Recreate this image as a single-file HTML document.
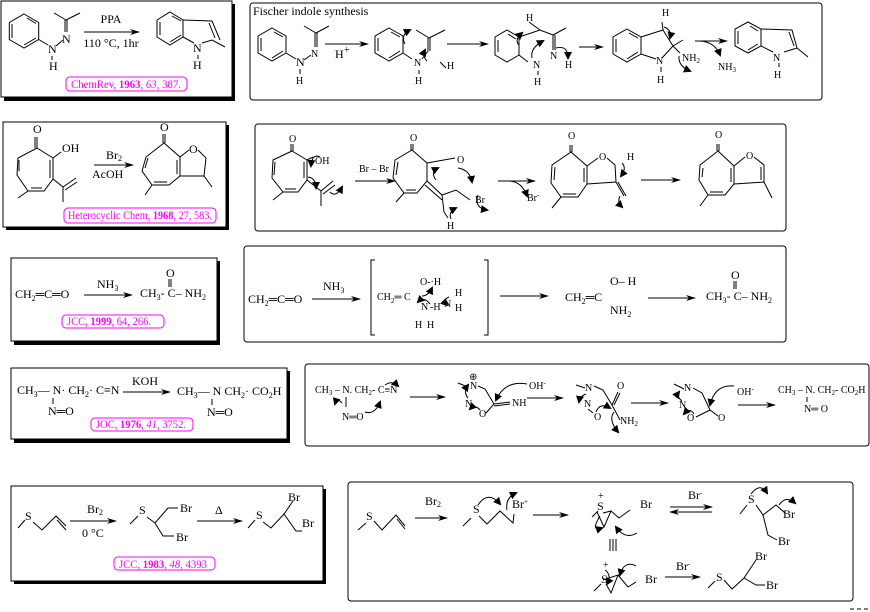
<!DOCTYPE html>
<html><head><meta charset="utf-8"><style>
html,body{margin:0;padding:0;background:#fff;}
svg{display:block;font-family:"Liberation Serif",serif;}
.t{font-size:12px;fill:#000;}
.s{font-size:10px;fill:#000;}
.m{font-size:11.5px;fill:#f0f;}
.b{fill:none;stroke:#000;stroke-width:1;}
.c{fill:none;stroke:#000;stroke-width:1;}
</style></head><body>
<svg width="870" height="612" viewBox="0 0 870 612" xmlns="http://www.w3.org/2000/svg">
<defs>
<marker id="a" markerWidth="10" markerHeight="6" refX="9" refY="3" orient="auto" markerUnits="userSpaceOnUse"><path d="M0,0 L10,3 L0,6 L3,3z" fill="#000"/></marker>
<marker id="h" markerWidth="8" markerHeight="8" refX="6" refY="4" orient="auto" markerUnits="userSpaceOnUse"><path d="M0,0 L8,4 L0,8z" fill="#000"/></marker>
</defs>

<rect x="4" y="4" width="231" height="97" fill="#000"/><rect x="1" y="1" width="231" height="96" fill="#fff" stroke="#000"/>
<rect x="6" y="125" width="223" height="105" fill="#000"/><rect x="3" y="122" width="223" height="105" fill="#fff" stroke="#000"/>
<rect x="14" y="261" width="206" height="84" fill="#000"/><rect x="11" y="258" width="206" height="83" fill="#fff" stroke="#000"/>
<rect x="14" y="371" width="276" height="72" fill="#000"/><rect x="11" y="368" width="276" height="71" fill="#fff" stroke="#000"/>
<rect x="14" y="489" width="312" height="95" fill="#000"/><rect x="11" y="486" width="312" height="95" fill="#fff" stroke="#000"/>

<rect x="250" y="3" width="572" height="97" rx="3" class="b"/>
<rect x="255" y="124" width="531" height="107" rx="3" class="b"/>
<rect x="244" y="246" width="542" height="96" rx="3" class="b"/>
<rect x="305" y="364" width="564" height="82" rx="3" class="b"/>
<rect x="348" y="482" width="505" height="119" rx="3" class="b"/>

<rect x="66" y="77" width="121" height="14" rx="4" fill="none" stroke="#f0f"/>
<text x="71" y="88" class="m" textLength="110" lengthAdjust="spacingAndGlyphs">ChemRev, <tspan font-weight="bold">1963</tspan>, <tspan font-style="italic">63</tspan>, 387.</text>
<rect x="64" y="208" width="152" height="15" rx="4" fill="none" stroke="#f0f"/>
<text x="68" y="219" class="m" textLength="144" lengthAdjust="spacingAndGlyphs">Heterocyclic Chem, <tspan font-weight="bold">1968</tspan>, 27, 583.</text>
<rect x="62" y="315" width="102" height="13" rx="4" fill="none" stroke="#f0f"/>
<text x="67" y="325" class="m" textLength="84" lengthAdjust="spacingAndGlyphs">JCC, <tspan font-weight="bold">1999</tspan>, 64, 266.</text>
<rect x="91" y="418" width="102" height="13" rx="4" fill="none" stroke="#f0f"/>
<text x="96" y="428" class="m" textLength="90" lengthAdjust="spacingAndGlyphs">JOC, <tspan font-weight="bold">1976</tspan>, <tspan font-style="italic">41</tspan>, 3752.</text>
<rect x="114" y="557" width="101" height="13" rx="4" fill="none" stroke="#f0f"/>
<text x="119" y="568" class="m" textLength="88" lengthAdjust="spacingAndGlyphs">JCC, <tspan font-weight="bold">1983</tspan>, <tspan font-style="italic">48</tspan>, 4393</text>

<!-- Row 1 left -->
<polygon points="24,14 38.7,22.5 38.7,39.5 24,48 9.3,39.5 9.3,22.5" class="b"/>
<path d="M27,18 L36,23.5 M36,38 L24,45 M12,38 L12,24" class="c"/>
<line x1="38.7" y1="39.5" x2="48" y2="45" class="c"/>
<text x="48" y="53" class="t">N</text><text x="49" y="70" class="t">H</text><line x1="52" y1="56" x2="52" y2="60" class="c"/>
<line x1="56" y1="46" x2="63" y2="40" class="c"/>
<text x="62" y="43" class="t">N</text>
<path d="M67,32 L67,20 M65,32 L65,20 M66,20 L54,13 M66,20 L80,13" class="c"/>
<line x1="84" y1="32" x2="139" y2="32" class="c" marker-end="url(#a)"/>
<text x="111" y="23" class="t" text-anchor="middle">PPA</text>
<text x="111" y="47" class="t" text-anchor="middle">110 °C, 1hr</text>
<polygon points="170,12 183,20 183,37 170,45 157,37 157,20" class="b"/>
<path d="M172,16 L181,21 M181,35 L170,42 M160,35 L160,22" class="c"/>
<path d="M183,20 L212,21 L220,40 M209,23 L215,38 M183,37 L194,43 M202,43 L212,40 L225,47" class="c"/>
<text x="193" y="52" class="t">N</text><line x1="198" y1="55" x2="198" y2="59" class="c"/><text x="193" y="69" class="t">H</text>

<!-- Row 1 right -->
<text x="253" y="15" class="t">Fischer indole synthesis</text>
<polygon points="272,28 286,36 286,53 272,61 258,53 258,36" class="b"/>
<path d="M274,32 L283,37 M283,51 L272,58 M261,51 L261,38" class="c"/>
<line x1="286" y1="53" x2="296" y2="59" class="c"/>
<text x="296" y="66" class="t" font-size="11">N</text><line x1="300" y1="69" x2="300" y2="74" class="c"/><text x="296" y="84" class="s">H</text>
<line x1="304" y1="60" x2="311" y2="55" class="c"/>
<text x="311" y="57" class="s">N</text>
<path d="M317,47 L317,33 M315,47 L315,33 M316,33 L304,26 M316,33 L329,26" class="c"/>
<line x1="325" y1="44" x2="368" y2="44" class="c" marker-end="url(#a)"/>
<text x="335" y="58" class="t">H</text><text x="344" y="53" class="s">+</text>
<polygon points="389,28 403,36 403,53 389,61 375,53 375,36" class="b"/>
<path d="M391,32 L400,37 M400,51 L389,58 M378,51 L378,38" class="c"/>
<text x="414" y="66" class="s">N</text><line x1="419" y1="70" x2="419" y2="74" class="c"/><text x="415" y="84" class="s">H</text>
<path d="M403,53 L412,59 M422,59 L428,51 M428,51 L428,38 M430,51 L430,38 M429,38 L445,30 M429,38 L416,30 M446,68 L440,62" class="c"/>
<text x="447" y="69" class="s">H</text>
<path d="M405,44 Q400,35 410,30" class="c" marker-end="url(#h)"/>
<path d="M427,61 Q422,56 425,50" class="c" marker-end="url(#h)"/>
<line x1="447" y1="44" x2="488" y2="44" class="c" marker-end="url(#a)"/>
<polygon points="507,30 519,37 519,55 507,62 495,55 495,37" class="b"/>
<path d="M508,34 L516,39 M498,52 L498,40 M519,55 L528,62" class="c"/>
<path d="M519,37 L540,30 L553,35 M540,30 L529,22 M553,35 L553,50 M555,35 L555,50 M553,35 L566,28" class="c"/>
<text x="526" y="21" class="s">H</text>
<text x="533" y="68" class="s">N</text><line x1="538" y1="71" x2="538" y2="75" class="c"/><text x="534" y="85" class="s">H</text>
<text x="550" y="59" class="s">N</text><text x="565" y="68" class="s">H</text>
<path d="M519,45 Q514,40 522,33" class="c" marker-end="url(#h)"/>
<path d="M532,58 Q530,48 543,41" class="c" marker-end="url(#h)"/>
<path d="M556,48 Q568,45 568,58" class="c" marker-end="url(#h)"/>
<line x1="579" y1="47" x2="603" y2="47" class="c" marker-end="url(#a)"/>
<polygon points="627,29 641,37 641,54 627,62 613,54 613,37" class="b"/>
<path d="M629,33 L638,38 M638,52 L627,59 M616,52 L616,39" class="c"/>
<path d="M641,37 L663,30 L673,46 L683,40 M663,30 L662,22 M641,54 L656,59 M662,58 L673,46 L680,53" class="c"/>
<text x="662" y="16" class="s">H</text>
<text x="656" y="64" class="s">N</text><line x1="661" y1="67" x2="661" y2="72" class="c"/><text x="657" y="83" class="s">H</text>
<text x="682" y="61" class="s">NH<tspan font-size="7" dy="2">2</tspan></text>
<path d="M664,27 Q672,30 670,38" class="c" marker-end="url(#h)"/>
<path d="M679,56 Q678,66 690,71" class="c" marker-end="url(#h)"/>
<line x1="695" y1="41" x2="727" y2="41" class="c" marker-end="url(#a)"/>
<path d="M700,41 Q715,42 720,55" class="c" marker-end="url(#h)"/>
<text x="718" y="70" class="s">NH<tspan font-size="7" dy="2">3</tspan></text>
<polygon points="748,22 761,29 761,46 748,53 735,46 735,29" class="b"/>
<path d="M750,26 L758,31 M758,44 L748,50 M738,44 L738,31" class="c"/>
<path d="M761,29 L792,30 L797,48 L808,57 M789,32 L794,46 M761,46 L773,52 M784,52 L797,48" class="c"/>
<text x="773" y="61" class="s">N</text><line x1="779" y1="63" x2="779" y2="67" class="c"/><text x="774" y="78" class="s">H</text>

<!-- Row 2 left -->
<text x="33" y="133" class="t">O</text>
<polygon points="37,148 53,158 53,179 44,191 28,191 17,175 18,158" class="b"/>
<path d="M37,137 L37,148 M35,137 L35,148 M50,160 L50,178 M19,171 L19,160 M31,188 L42,188" class="c"/>
<text x="62" y="152" class="t">OH</text>
<path d="M53,158 L61,152 M53,179 L63,187 L63,202 M63,187 L76,178 M65,190 L77,182 M28,191 L18,198" class="c"/>
<line x1="94" y1="165" x2="133" y2="165" class="c" marker-end="url(#a)"/>
<text x="106" y="159" class="t">Br<tspan font-size="8" dy="2">2</tspan></text>
<text x="92" y="178" class="t">AcOH</text>
<text x="160" y="131" class="t">O</text>
<polygon points="164,143 180,157 180,176 169,185 152,185 142,171 146,157" class="b"/>
<path d="M165,134 L165,143 M163,134 L163,143 M177,160 L177,174 M145,168 L148,158 M154,182 L167,182" class="c"/>
<text x="189" y="153" class="t">O</text>
<path d="M180,157 L189,150 M198,150 L206,158 L204,176 L180,176 M204,176 L212,187 M152,185 L145,195" class="c"/>

<!-- Row 2 right -->
<text x="289" y="142" class="s">O</text>
<polygon points="292,151 307,160 307,180 298,192 283,192 272,178 273,160" class="b"/>
<path d="M293,144 L293,151 M291,144 L291,151 M304,162 L304,178 M274,175 L275,162 M285,189 L296,189" class="c"/>
<text x="315" y="164" class="s">OH</text>
<path d="M307,160 L313,157 M307,180 L321,191 L321,206 M321,191 L333,181 M323,194 L335,185 M283,192 L273,200" class="c"/>
<path d="M320,157 Q312,153 311,166" class="c" marker-end="url(#h)"/>
<path d="M308,177 Q316,178 316,188" class="c" marker-end="url(#h)"/>
<path d="M330,192 Q336,198 342,187" class="c" marker-end="url(#h)"/>
<text x="359" y="172" class="s">Br – Br</text>
<line x1="355" y1="181" x2="395" y2="181" class="c" marker-end="url(#a)"/>
<text x="410" y="141" class="s">O</text>
<polygon points="412,150 427,163 427,181 417,193 404,193 393,178 395,160" class="b"/>
<path d="M413,144 L413,150 M411,144 L411,150 M396,175 L398,162 M406,190 L416,190 M425,185 L442,200" class="c"/>
<text x="457" y="163" class="s">O</text>
<path d="M427,163 L455,158 M427,181 L442,195 L456,190 L470,200 M442,195 L444,212 L448,218 M404,193 L396,202" class="c"/>
<text x="475" y="203" class="s">Br</text>
<text x="447" y="229" class="s">H</text>
<path d="M458,168 Q470,170 472,182" class="c" marker-end="url(#h)"/>
<path d="M478,195 Q474,208 487,210" class="c" marker-end="url(#h)"/>
<path d="M451,219 Q448,212 456,208" class="c" marker-end="url(#h)"/>
<path d="M436,180 Q430,172 438,168" class="c" marker-end="url(#h)"/>
<line x1="498" y1="181" x2="535" y2="181" class="c" marker-end="url(#a)"/>
<path d="M510,181 Q522,182 527,196" class="c" marker-end="url(#h)"/>
<text x="527" y="201" class="s">Br<tspan font-size="7" dy="-4">-</tspan></text>
<text x="568" y="139" class="s">O</text>
<polygon points="571,152 587,166 587,184 578,197 561,197 551,183 552,165" class="b"/>
<path d="M572,145 L572,152 M570,145 L570,152 M554,180 L555,167 M563,194 L576,194 M584,168 L584,182 M561,197 L552,208" class="c"/>
<text x="599" y="160" class="s">O</text>
<path d="M587,166 L598,158 M607,158 L615,165 L616,182 L587,184 M616,182 L624,196 M618,182 L626,196" class="c"/>
<text x="627" y="160" class="s">H</text>
<path d="M622,163 Q627,168 621,176" class="c" marker-end="url(#h)"/>
<path d="M620,196 Q617,202 622,207" class="c" marker-end="url(#h)"/>
<line x1="641" y1="180" x2="680" y2="180" class="c" marker-end="url(#a)"/>
<text x="715" y="138" class="s">O</text>
<polygon points="718,151 734,166 734,184 725,195 708,195 699,180 700,165" class="b"/>
<path d="M719,144 L719,151 M717,144 L717,151 M702,177 L703,168 M710,192 L723,192 M731,168 L731,182 M708,195 L700,206" class="c"/>
<text x="746" y="159" class="s">O</text>
<path d="M734,166 L745,157 M754,157 L764,165 L764,182 L734,184 M761,167 L761,180 M764,182 L772,198" class="c"/>

<!-- Row 3 left -->
<text x="15" y="298" class="t">CH<tspan font-size="8" dy="3">2</tspan><tspan dy="-3">═C═O</tspan></text>
<line x1="84" y1="295" x2="132" y2="295" class="c" marker-end="url(#a)"/>
<text x="97" y="288" class="t">NH<tspan font-size="8" dy="3">3</tspan></text>
<text x="140" y="297" class="t">CH<tspan font-size="8" dy="3">3</tspan><tspan dy="-3">- C– NH</tspan><tspan font-size="8" dy="3">2</tspan></text>
<text x="166" y="277" class="t">O</text>
<path d="M169,279 L169,287 M171,279 L171,287" class="c"/>

<!-- Row 3 right -->
<text x="248" y="303" class="t">CH<tspan font-size="8" dy="3">2</tspan><tspan dy="-3">═C═O</tspan></text>
<line x1="312" y1="299" x2="360" y2="299" class="c" marker-end="url(#a)"/>
<text x="323" y="290" class="t">NH<tspan font-size="8" dy="3">3</tspan></text>
<path d="M375,260 L371,260 L371,335 L375,335 M484,260 L488,260 L488,335 L484,335" class="c"/>
<text x="377" y="300" class="s" font-size="11">CH<tspan font-size="7" dy="3">2</tspan><tspan dy="-3">═ C</tspan></text>
<text x="420" y="285" class="s" font-size="11">O-·H</text>
<text x="444" y="307" class="s" font-size="11">N</text>
<text x="455" y="296" class="s" font-size="11">H</text>
<text x="455" y="311" class="s" font-size="11">H</text>
<text x="421" y="310" class="s" font-size="11">N</text>
<text x="430" y="310" class="s" font-size="11">-H</text>
<text x="415" y="328" class="s" font-size="11">H</text><text x="427" y="328" class="s" font-size="11">H</text>
<path d="M422,296 Q428,296 432,288" class="c" marker-end="url(#h)"/>
<path d="M430,304 Q424,296 418,302" class="c" marker-end="url(#h)"/>
<path d="M449,297 Q442,300 447,305" class="c" marker-end="url(#h)"/>
<line x1="500" y1="296" x2="548" y2="296" class="c" marker-end="url(#a)"/>
<text x="565" y="301" class="t">CH<tspan font-size="8" dy="3">2</tspan><tspan dy="-3">═C</tspan></text>
<text x="610" y="285" class="t">O– H</text>
<text x="610" y="314" class="t">NH<tspan font-size="8" dy="3">2</tspan></text>
<line x1="648" y1="298" x2="695" y2="298" class="c" marker-end="url(#a)"/>
<text x="706" y="300" class="t">CH<tspan font-size="8" dy="3">3</tspan><tspan dy="-3">- C– NH</tspan><tspan font-size="8" dy="3">2</tspan></text>
<text x="731" y="279" class="t">O</text>
<path d="M734,281 L734,289 M736,281 L736,289" class="c"/>

<!-- Row 4 left -->
<text x="17" y="394" class="t">CH<tspan font-size="8" dy="3">3</tspan><tspan dy="-3">— N· CH</tspan><tspan font-size="8" dy="3">2</tspan><tspan dy="-3">· C≡N</tspan></text>
<line x1="53" y1="398" x2="53" y2="404" class="c"/>
<text x="48" y="415" class="t">N═O</text>
<line x1="123" y1="392" x2="170" y2="392" class="c" marker-end="url(#a)"/>
<text x="132" y="385" class="t">KOH</text>
<text x="177" y="395" class="t">CH<tspan font-size="8" dy="3">3</tspan><tspan dy="-3">— N  CH</tspan><tspan font-size="8" dy="3">2</tspan><tspan dy="-3">· CO</tspan><tspan font-size="8" dy="3">2</tspan><tspan dy="-3">H</tspan></text>
<line x1="212" y1="399" x2="212" y2="405" class="c"/>
<text x="207" y="416" class="t">N═O</text>

<!-- Row 4 right -->
<text x="315" y="393" class="s">CH<tspan font-size="7" dy="2">3</tspan><tspan dy="-2"> – N. CH</tspan><tspan font-size="7" dy="2">2</tspan><tspan dy="-2">- C≡N</tspan></text>
<line x1="346" y1="397" x2="346" y2="407" class="c"/>
<text x="342" y="420" class="s">N═O</text>
<path d="M342,403 Q337,397 335,404" class="c" marker-end="url(#h)"/>
<path d="M365,412 Q375,415 380,402" class="c" marker-end="url(#h)"/>
<path d="M385,385 Q392,380 398,386" class="c" marker-end="url(#h)"/>
<line x1="410" y1="397" x2="445" y2="397" class="c" marker-end="url(#a)"/>
<text x="470" y="389" class="s">N</text><text x="469" y="380" class="s" font-size="8">⊕</text>
<text x="465" y="407" class="s">N</text>
<text x="479" y="417" class="s">O</text>
<path d="M458,383 L468,387 M478,386 L485,389 L494,404 L486,413 M494,404 L510,402 M494,406 L510,404" class="c"/>
<text x="512" y="406" class="s">NH</text>
<text x="529" y="389" class="s">OH<tspan font-size="7" dy="-4">-</tspan></text>
<path d="M527,384 Q505,380 496,400" class="c" marker-end="url(#h)"/>
<path d="M480,410 Q475,404 470,409" class="c" marker-end="url(#h)"/>
<path d="M468,398 Q463,392 468,385" class="c" marker-end="url(#h)"/>
<line x1="527" y1="398" x2="563" y2="398" class="c" marker-end="url(#a)"/>
<text x="585" y="391" class="s">N</text><text x="584" y="407" class="s">N</text><text x="594" y="420" class="s">O</text>
<path d="M576,385 L585,388 M594,386 L603,390 L612,405 L620,420 M612,405 L618,392 M614,405 L620,393 M588,409 L593,413" class="c"/>
<text x="617" y="389" class="s">O</text>
<text x="620" y="424" class="s">NH<tspan font-size="7" dy="2">2</tspan></text>
<path d="M596,412 Q600,402 610,408" class="c" marker-end="url(#h)"/>
<path d="M614,412 Q608,420 618,432" class="c" marker-end="url(#h)"/>
<path d="M586,394 Q580,396 579,402" class="c" marker-end="url(#h)"/>
<line x1="631" y1="403" x2="668" y2="403" class="c" marker-end="url(#a)"/>
<text x="684" y="391" class="s">N</text><text x="679" y="408" class="s">N</text><text x="687" y="421" class="s">O</text>
<text x="718" y="421" class="s">O</text>
<path d="M674,384 L684,389 M693,388 L702,393 L710,410 L718,416 M710,410 L696,417" class="c"/>
<text x="737" y="395" class="s">OH<tspan font-size="7" dy="-4">-</tspan></text>
<path d="M734,386 Q715,384 710,405" class="c" marker-end="url(#h)"/>
<path d="M682,401 Q676,396 679,392" class="c" marker-end="url(#h)"/>
<path d="M694,414 Q690,407 684,414" class="c" marker-end="url(#h)"/>
<line x1="738" y1="405" x2="775" y2="405" class="c" marker-end="url(#a)"/>
<text x="778" y="393" class="s">CH<tspan font-size="7" dy="2">3</tspan><tspan dy="-2"> – N. CH</tspan><tspan font-size="7" dy="2">2</tspan><tspan dy="-2">- CO</tspan><tspan font-size="7" dy="2">2</tspan><tspan dy="-2">H</tspan></text>
<line x1="807" y1="397" x2="807" y2="402" class="c"/>
<text x="804" y="412" class="s">N═ O</text>

<!-- Row 5 left -->
<text x="25" y="520" class="t">S</text>
<path d="M18,528 L25,520 M33,522 L42,530 L56,516 L66,526 M57,520 L66,530" class="c"/>
<line x1="70" y1="521" x2="116" y2="521" class="c" marker-end="url(#a)"/>
<text x="87" y="513" class="t">Br<tspan font-size="8" dy="2">2</tspan></text>
<text x="82" y="537" class="t">0 °C</text>
<text x="139" y="514" class="t">S</text>
<path d="M130,524 L138,516 M147,517 L155,523 L168,508 L178,508 M155,523 L163,536 L174,536" class="c"/>
<text x="180" y="512" class="t">Br</text>
<text x="176" y="541" class="t">Br</text>
<line x1="197" y1="521" x2="242" y2="521" class="c" marker-end="url(#a)"/>
<text x="215" y="514" class="t">Δ</text>
<text x="256" y="519" class="t">S</text>
<path d="M248,528 L255,520 M263,522 L271,528 L284,514 L293,501 M284,514 L296,531 L302,531" class="c"/>
<text x="288" y="501" class="t">Br</text>
<text x="302" y="527" class="t">Br</text>

<!-- Row 5 right -->
<text x="366" y="520" class="t">S</text>
<path d="M358,530 L366,523 M374,521 L382,530 L396,515 L405,526 M397,519 L405,529" class="c"/>
<line x1="415" y1="518" x2="447" y2="518" class="c" marker-end="url(#a)"/>
<text x="425" y="505" class="t">Br<tspan font-size="8" dy="2">2</tspan></text>
<text x="473" y="513" class="t">S</text>
<path d="M463,526 L471,518 M479,516 L487,524 L500,511 L513,523 L514,514" class="c"/>
<text x="512" y="508" class="t">Br<tspan font-size="7" dy="-4">+</tspan></text>
<path d="M478,505 Q488,490 500,504" class="c" marker-end="url(#h)"/>
<path d="M507,510 Q505,498 516,493" class="c" marker-end="url(#h)"/>
<line x1="533" y1="515" x2="568" y2="515" class="c" marker-end="url(#a)"/>
<text x="597" y="510" class="t">S</text><text x="598" y="499" class="s" font-size="8">+</text>
<path d="M592,517 L598,511 M603,513 L611,511 L604,527 L597,512 M611,511 L619,518 L630,510" class="c"/>
<text x="640" y="508" class="t">Br</text>
<path d="M600,516 Q590,532 602,528" class="c" marker-end="url(#h)"/>
<path d="M637,533 Q625,540 616,527" class="c" marker-end="url(#h)"/>
<line x1="670" y1="507" x2="712" y2="507" class="c" marker-end="url(#a)"/>
<line x1="712" y1="512" x2="670" y2="512" class="c" marker-end="url(#a)"/>
<text x="688" y="499" class="t">Br<tspan font-size="7" dy="-4">-</tspan></text>
<text x="748" y="503" class="t">S</text>
<path d="M740,514 L747,505 M756,505 L763,515 L776,505 L785,513 M763,515 L768,535 L777,540" class="c"/>
<path d="M751,494 Q760,482 767,493" class="c" marker-end="url(#h)"/>
<path d="M779,505 Q786,495 795,503" class="c" marker-end="url(#h)"/>
<text x="783" y="518" class="t">Br</text>
<text x="778" y="545" class="t">Br</text>
<path d="M610,539 L610,551 M613,539 L613,551 M616,539 L616,551" class="c"/>
<text x="601" y="583" class="t">S</text><text x="603" y="568" class="s" font-size="8">+</text>
<path d="M594,591 L601,584 M606,584 L611,593 L618,575 L603,580 M618,575 L628,587 L636,582" class="c"/>
<text x="645" y="583" class="t">Br</text>
<path d="M605,570 Q612,575 607,584" class="c" marker-end="url(#h)"/>
<path d="M636,566 Q624,560 620,575" class="c" marker-end="url(#h)"/>
<line x1="665" y1="577" x2="700" y2="577" class="c" marker-end="url(#a)"/>
<text x="676" y="570" class="t">Br<tspan font-size="7" dy="-4">-</tspan></text>
<text x="716" y="581" class="t">S</text>
<path d="M708,588 L715,581 M724,580 L732,589 L744,578 L756,560 M744,578 L756,585 L765,585" class="c"/>
<text x="755" y="560" class="t">Br</text>
<text x="766" y="589" class="t">Br</text>

<path d="M850,609 L854,609 M857,609 L861,609 M864,609 L868,609" class="c"/>
</svg>
</body></html>
